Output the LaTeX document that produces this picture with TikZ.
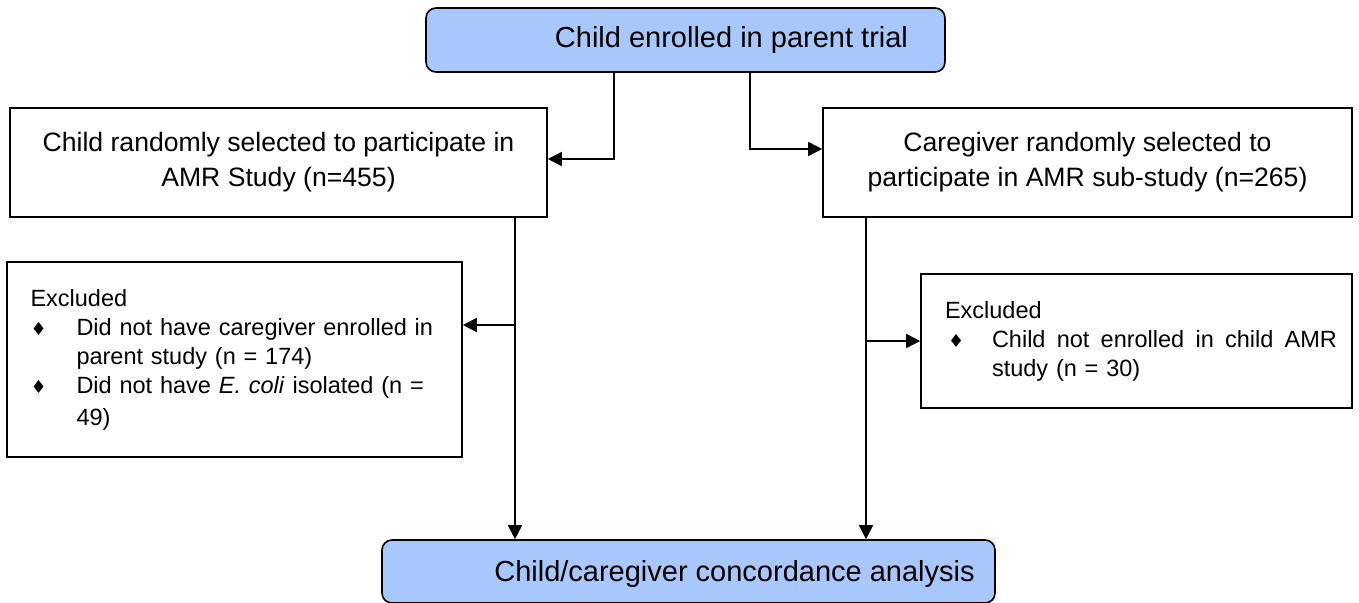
\documentclass[tikz,border=0pt]{standalone}
\usepackage{fontspec}
\setmainfont{Liberation Sans}
\newfontfamily\dejavu{DejaVu Sans}
\usetikzlibrary{arrows.meta}
\definecolor{boxblue}{RGB}{168,199,250}
\newcommand{\bulL}{\makebox[46pt][l]{\hspace*{0pt}{\dejavu\fontsize{18}{18}\selectfont ♦}}}
\newcommand{\bulR}{\makebox[47pt][l]{\hspace*{3pt}{\dejavu\fontsize{18}{18}\selectfont ♦}}}
\begin{document}
\begin{tikzpicture}[x=1pt,y=-1pt,
  lw/.style={line width=1.6pt},
  roundbox/.style={lw,draw=black,fill=boxblue,rounded corners=10pt,inner sep=0pt},
  mainbox/.style={lw,draw=black,fill=white,inner sep=0pt,align=center,font=\fontsize{26.6}{35}\selectfont},
  exclbox/.style={lw,draw=black,fill=white,inner sep=0pt,align=left,font=\fontsize{23.5}{29}\selectfont},
  bigtext/.style={font=\fontsize{29}{35}\selectfont},
  arr/.style={lw,-{Triangle[length=14pt,width=14pt]}}]
\useasboundingbox (0,0) rectangle (1359,602);
\clip (0,0) rectangle (1359,602);
\fill[white] (0,0) rectangle (1359,602);

\node[roundbox,minimum width=519pt,minimum height=64pt,
  label={[bigtext,xshift=46pt]center:Child enrolled in parent trial}] (top) at (685.5,40) {};

\node[mainbox,minimum width=537pt,minimum height=109pt] (leftbox) at (278.5,162.5)
  {Child randomly selected to participate in\\AMR Study (n=455)};
\node[mainbox,minimum width=529pt,minimum height=109pt] (rightbox) at (1087.5,162.5)
  {Caregiver randomly selected to\\participate in AMR sub-study (n=265)};

\node[exclbox,minimum width=455pt,minimum height=195pt,text width=420pt] (exclL) at (234.5,359.5)
  {\hspace*{6pt}Excluded\\
   \hspace*{6pt}\bulL Did not have caregiver enrolled in\\
   \hspace*{6pt}\hspace*{46pt}parent study (n = 174)\\
   \hspace*{6pt}\bulL Did not have \textit{E. coli} isolated (n =\\[3pt]
   \hspace*{6pt}\hspace*{46pt}49)};

\node[exclbox,minimum width=431pt,minimum height=134pt,text width=415pt] (exclR) at (1136.5,341)
  {\hspace*{16pt}Excluded\\
   \hspace*{16pt}\bulR\hbox to 345pt{Child\hfill not\hfill enrolled\hfill in\hfill child\hfill AMR}\\
   \hspace*{16pt}\hspace*{47pt}study (n = 30)};

\node[roundbox,minimum width=613pt,minimum height=63pt,
  label={[bigtext,xshift=46pt,yshift=-2pt]center:Child/caregiver concordance analysis}] (bottom) at (688.5,571.5) {};

\coordinate (j1) at (614,159);
\coordinate (j2) at (750,149);
\coordinate (v1) at (515,325);
\coordinate (v2) at (866,341);

\draw[arr] (top.south -| j1) |- (leftbox.east |- j1);
\draw[arr] (top.south -| j2) |- (rightbox.west |- j2);
\draw[arr] (leftbox.south -| v1) -- (bottom.north -| v1);
\draw[arr] (v1) -- (exclL.east |- v1);
\draw[arr] (rightbox.south -| v2) -- (bottom.north -| v2);
\draw[arr] (v2) -- (exclR.west |- v2);
\end{tikzpicture}
\end{document}
